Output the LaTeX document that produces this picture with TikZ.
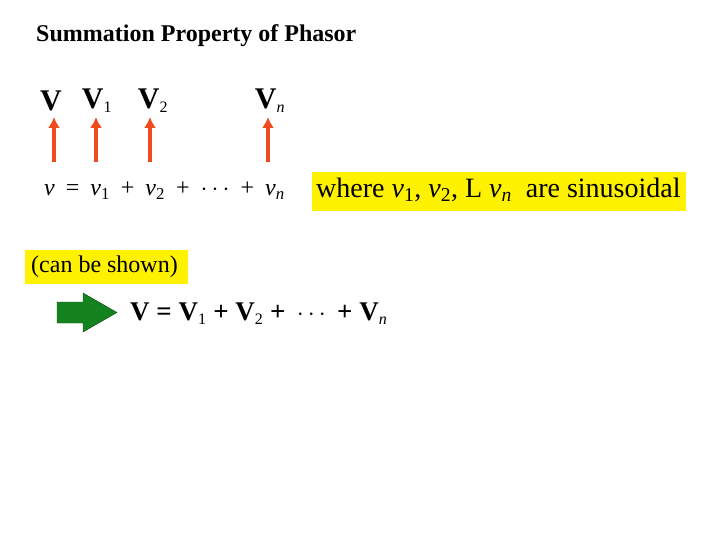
\documentclass[tikz,border=0pt]{standalone}
\usepackage{fontspec}
\setmainfont{Liberation Serif}
\usetikzlibrary{arrows.meta}
\begin{document}
\begin{tikzpicture}[x=1pt,y=-1pt,
  lbl/.style={font=\fontsize{30}{32}\selectfont\bfseries, inner sep=0pt},
  up/.style={draw={rgb,255:red,240;green,75;blue,30}, line width=3.5pt, -{Latex[length=11pt,width=12pt]}},
  ybox/.style={fill=yellow, inner sep=0pt, anchor=north west}]
\useasboundingbox (0,0) rectangle (720,540);
\def\g{\hspace{11pt}}
\node[anchor=base west, inner sep=0pt, font=\fontsize{24}{26}\selectfont\bfseries] (title) at (36,42) {Summation Property of Phasor};
\node[lbl] (V) at (51,101) {V};
\node[lbl] (V1) at (97,101) {V\textsubscript{\normalfont\fontsize{16}{16}\selectfont 1}};
\node[lbl] (V2) at (153,101) {V\textsubscript{\normalfont\fontsize{16}{16}\selectfont 2}};
\node[lbl] (Vn) at (270,101) {V\textsubscript{\normalfont\itshape\fontsize{16}{16}\selectfont n}};
\coordinate (a0) at (54,162); \coordinate (a1) at (96,162);
\coordinate (a2) at (150,162); \coordinate (a3) at (268,162);
\coordinate (b0) at (54,117); \coordinate (b1) at (96,117);
\coordinate (b2) at (150,117); \coordinate (b3) at (268,117);
\draw[up] (a0) -- (b0); \draw[up] (a1) -- (b1); \draw[up] (a2) -- (b2); \draw[up] (a3) -- (b3);
\node[anchor=west, inner sep=0pt, font=\fontsize{24}{26}\selectfont] (eq1) at (44,191)
 {\textit{v}\g=\g\textit{v}\textsubscript{1}\g+\g\textit{v}\textsubscript{2}\g+\g$\cdots$\g+\g\textit{v}\textsubscript{\textit{n}}};
\node[ybox, minimum width=374pt, minimum height=39pt] (where) at (312,172) {};
\node[anchor=west, inner sep=0pt, font=\fontsize{28}{30}\selectfont] (wt) at (316,190)
 {where \textit{v}\textsubscript{1}, \textit{v}\textsubscript{2}, L \textit{v}\textsubscript{\textit{n}} \ are sinusoidal};
\node[ybox, minimum width=163pt, minimum height=34pt] (can) at (25,250) {};
\node[anchor=west, inner sep=0pt, font=\fontsize{24}{26}\selectfont] (cant) at (31,267) {(can be shown)};
\draw[fill={rgb,255:red,20;green,130;blue,30}, draw={rgb,255:red,20;green,70;blue,20}]
 (57,302) -- (83,302) -- (83,293) -- (117,312.5) -- (83,332) -- (83,323) -- (57,323) -- cycle;
\node[anchor=west, inner sep=0pt, font=\fontsize{27}{29}\selectfont\bfseries] (eq2) at (130,314)
 {V = V\textsubscript{\normalfont\fontsize{16}{16}\selectfont 1} + V\textsubscript{\normalfont\fontsize{16}{16}\selectfont 2} + \,$\cdots$\, + V\textsubscript{\normalfont\itshape\fontsize{16}{16}\selectfont n}};
\end{tikzpicture}
\end{document}
